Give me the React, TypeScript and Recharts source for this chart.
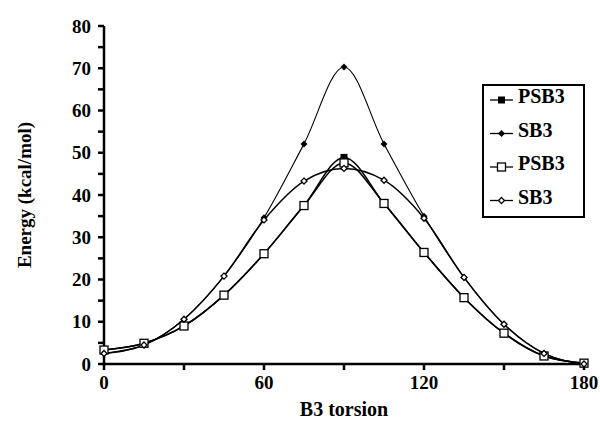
import { LineChart, Line, XAxis, YAxis } from "recharts";

const torsion = [0, 15, 30, 45, 60, 75, 90, 105, 120, 135, 150, 165, 180];
const psb3Filled = [3.3, 4.9, 9.0, 16.3, 26.1, 37.5, 48.9, 38.0, 26.4, 15.7, 7.3, 1.9, 0.2];
const sb3Filled = [2.5, 4.5, 10.6, 20.8, 34.6, 52.1, 70.3, 52.1, 35.0, 20.5, 9.4, 2.5, 0];
const psb3Open = [3.3, 4.9, 9.0, 16.3, 26.1, 37.5, 47.6, 38.0, 26.4, 15.7, 7.3, 1.9, 0.2];
const sb3Open = [2.5, 4.5, 10.6, 20.8, 34.1, 43.3, 46.3, 43.5, 34.5, 20.5, 9.4, 2.5, 0];

const xTicks = [0, 30, 60, 90, 120, 150, 180];
const yTicks = [0, 5, 10, 15, 20, 25, 30, 35, 40, 45, 50, 55, 60, 65, 70, 75, 80];

const data = torsion.map((t, i) => ({
  t,
  psb3f: psb3Filled[i],
  sb3f: sb3Filled[i],
  psb3o: psb3Open[i],
  sb3o: sb3Open[i],
}));

const FONT = "'Liberation Serif', 'Times New Roman', serif";

type Kind = "sq" | "dia" | "osq" | "odia";

function Marker({ kind, cx, cy }: { kind: Kind; cx: number; cy: number }) {
  if (kind === "sq") return <rect x={cx - 3.5} y={cy - 3.5} width={7} height={7} fill="#000" />;
  if (kind === "osq")
    return <rect x={cx - 4} y={cy - 4} width={8} height={8} fill="#fff" stroke="#000" strokeWidth={1.3} />;
  if (kind === "dia")
    return <path d={`M${cx},${cy - 3.5}L${cx + 3.5},${cy}L${cx},${cy + 3.5}L${cx - 3.5},${cy}Z`} fill="#000" />;
  return (
    <path
      d={`M${cx},${cy - 3}L${cx + 3},${cy}L${cx},${cy + 3}L${cx - 3},${cy}Z`}
      fill="#fff"
      stroke="#000"
      strokeWidth={1.3}
    />
  );
}

const dot = (kind: Kind) => (p: any) =>
  p.cx == null ? <g key={p.index} /> : <Marker key={`${kind}-${p.index}`} kind={kind} cx={p.cx} cy={p.cy} />;

const legendItems: { label: string; kind: Kind }[] = [
  { label: "PSB3", kind: "sq" },
  { label: "SB3", kind: "dia" },
  { label: "PSB3", kind: "osq" },
  { label: "SB3", kind: "odia" },
];

function LegendBox() {
  return (
    <g>
      <rect x={483} y={85} width={101} height={132} fill="#fff" stroke="#000" strokeWidth={2} />
      {legendItems.map((it, i) => {
        const y = 100 + i * 33.5;
        return (
          <g key={i}>
            <line x1={490} x2={513} y1={y} y2={y} stroke="#000" strokeWidth={1.3} />
            <Marker kind={it.kind} cx={501.5} cy={y} />
            <text x={518} y={y + 3} fontFamily={FONT} fontWeight="bold" fontSize={20} fill="#000">
              {it.label}
            </text>
          </g>
        );
      })}
    </g>
  );
}

const yLabel = () => (
  <text
    x={24}
    y={195}
    transform="rotate(-90, 24, 195)"
    textAnchor="middle"
    dominantBaseline="central"
    fontFamily={FONT}
    fontWeight="bold"
    fontSize={19}
    fill="#000"
  >
    Energy (kcal/mol)
  </text>
);

export default function App() {
  return (
    <div style={{ position: "absolute", left: 0, top: 0, background: "#fff" }}>
      <LineChart width={600} height={421} data={data} margin={{ top: 26, right: 16, bottom: 0, left: 0 }}>
        <XAxis
          dataKey="t"
          type="number"
          domain={[0, 180]}
          ticks={xTicks}
          tickFormatter={(v: number) => (v % 60 === 0 ? String(v) : "")}
          stroke="#000"
          strokeWidth={2.5}
          tickSize={6}
          tickMargin={6}
          height={57}
          tick={{ fontFamily: FONT, fontWeight: "bold", fontSize: 19, fill: "#000" }}
          label={{
            value: "B3 torsion",
            position: "insideBottom",
            offset: 5,
            style: { fontFamily: FONT, fontWeight: "bold", fontSize: 20, fill: "#000" },
          }}
        />
        <YAxis
          type="number"
          domain={[0, 80]}
          ticks={yTicks}
          interval={0}
          tickFormatter={(v: number) => (v % 10 === 0 ? String(v) : "")}
          stroke="#000"
          strokeWidth={2.5}
          tickSize={6}
          tickMargin={7}
          width={104}
          tick={{ fontFamily: FONT, fontWeight: "bold", fontSize: 19, fill: "#000" }}
          label={yLabel}
        />
        <Line type="monotone" dataKey="psb3f" stroke="#000" strokeWidth={1.5} dot={dot("sq")} isAnimationActive={false} />
        <Line type="monotone" dataKey="sb3f" stroke="#000" strokeWidth={1.1} dot={dot("dia")} isAnimationActive={false} />
        <Line type="monotone" dataKey="psb3o" stroke="#000" strokeWidth={1.5} dot={dot("osq")} isAnimationActive={false} />
        <Line type="monotone" dataKey="sb3o" stroke="#000" strokeWidth={1.5} dot={dot("odia")} isAnimationActive={false} />
        <LegendBox />
      </LineChart>
    </div>
  );
}
